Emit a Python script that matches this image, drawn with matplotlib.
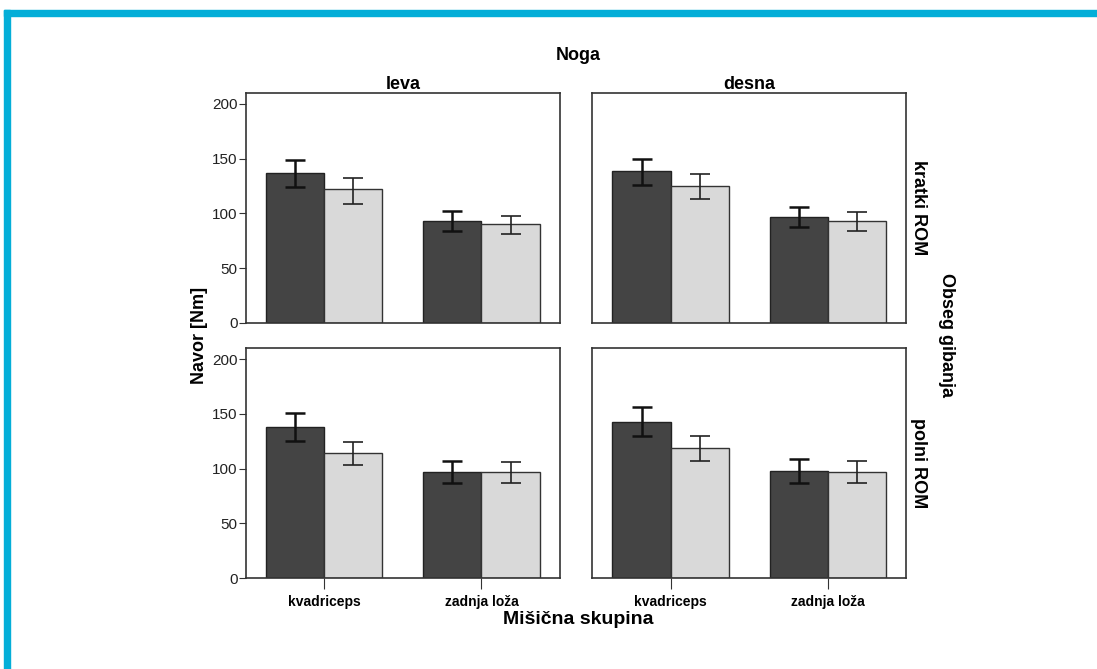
import matplotlib
matplotlib.use("Agg")
import matplotlib.pyplot as plt
from matplotlib.patches import Rectangle
import numpy as np

plt.rcParams['font.family'] = ['Liberation Sans', 'DejaVu Sans']

# data: [row][col] -> (dark, light) per muscle group
categories = ["kvadriceps", "zadnja loža"]
legs = ["leva", "desna"]
roms = ["kratki ROM", "polni ROM"]

dark_mean = [[[137, 93], [139, 97]],
             [[138, 97], [143, 98]]]
dark_lo = [[[124, 84], [126, 88]],
           [[125, 87], [130, 87]]]
dark_hi = [[[149, 102], [150, 106]],
           [[151, 107], [156, 109]]]
light_mean = [[[122, 90], [125, 93]],
              [[114, 97], [119, 97]]]
light_lo = [[[109, 81], [113, 84]],
            [[103, 87], [107, 87]]]
light_hi = [[[132, 98], [136, 101]],
            [[124, 106], [130, 107]]]

fig = plt.figure(figsize=(10.97, 6.69), dpi=100)

# cyan frame (top and left)
fig.patches.append(Rectangle((0.0037, 1 - 16 / 669), 1, 6 / 669, transform=fig.transFigure,
                             color="#04aed8", zorder=0))
fig.patches.append(Rectangle((0.0037, 0), 6 / 1097, 1 - 10 / 669, transform=fig.transFigure,
                             color="#04aed8", zorder=0))

lefts = [0.224, 0.5397]
bottoms = [0.5172, 0.1356]
w, h = 0.2865, 0.344
x = np.arange(len(categories))
bw = 0.37
spine_col = "#333333"

for r in range(2):
    for c in range(2):
        ax = fig.add_axes([lefts[c], bottoms[r], w, h])
        dm = np.array(dark_mean[r][c]); lm = np.array(light_mean[r][c])
        ax.bar(x - bw / 2, dm, bw, color="#444444", edgecolor="#222222", linewidth=1)
        ax.bar(x + bw / 2, lm, bw, color="#d9d9d9", edgecolor="#333333", linewidth=1)
        ax.errorbar(x - bw / 2, dm, yerr=[dm - np.array(dark_lo[r][c]), np.array(dark_hi[r][c]) - dm],
                    fmt="none", ecolor="#111111", elinewidth=1.8, capsize=7, capthick=1.8)
        ax.errorbar(x + bw / 2, lm, yerr=[lm - np.array(light_lo[r][c]), np.array(light_hi[r][c]) - lm],
                    fmt="none", ecolor="#222222", elinewidth=1.2, capsize=7, capthick=1.2)
        ax.set_xlim(-0.5, 1.5)
        ax.set_ylim(0, 210)
        for s in ax.spines.values():
            s.set_color(spine_col)
            s.set_linewidth(1.2)
        ax.set_yticks([0, 50, 100, 150, 200])
        if c == 0:
            ax.tick_params(axis="y", length=5, color=spine_col, labelsize=11, labelcolor="#222222", pad=1)
        else:
            ax.tick_params(axis="y", length=0, labelleft=False)
        ax.set_xticks(x)
        if r == 1:
            ax.set_xticklabels(categories, fontsize=10, fontweight="bold")
            ax.tick_params(axis="x", length=8, color=spine_col, pad=4)
        else:
            ax.tick_params(axis="x", length=0, labelbottom=False)
        if r == 0:
            ax.set_title(legs[c], fontsize=13, fontweight="bold", pad=3)
        if c == 1:
            ax.text(1.04, 0.5, roms[r], transform=ax.transAxes, rotation=-90,
                    ha="center", va="center", fontsize=13, fontweight="bold")

fig.text(578 / 1097, 1 - 55 / 669, "Noga", ha="center", va="center", fontsize=13, fontweight="bold")
fig.text(200 / 1097, 1 - 335 / 669, "Navor [Nm]", rotation=90, ha="center", va="center",
         fontsize=13, fontweight="bold")
fig.text(946 / 1097, 1 - 335 / 669, "Obseg gibanja", rotation=-90, ha="center", va="center",
         fontsize=13, fontweight="bold")
fig.text(578 / 1097, 1 - 620 / 669, "Mišična skupina", ha="center", va="center",
         fontsize=14, fontweight="bold")

fig.savefig("out.png", dpi=100)
